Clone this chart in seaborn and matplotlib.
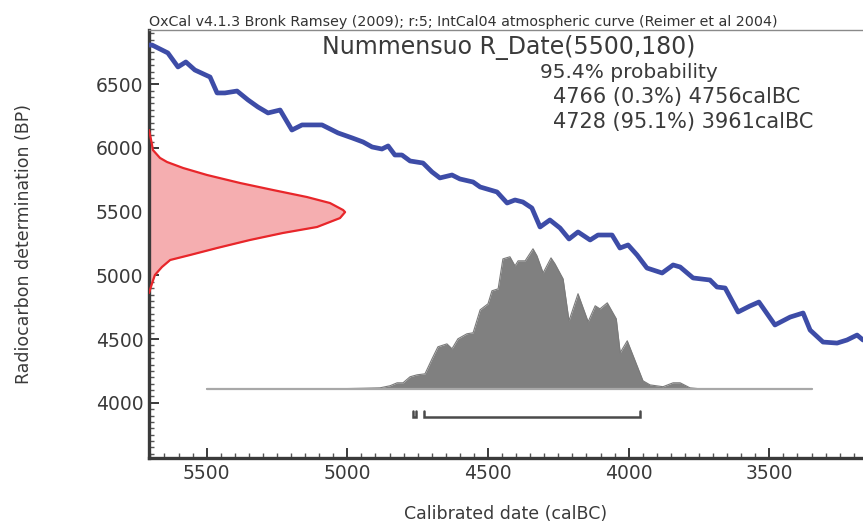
import matplotlib
matplotlib.use("Agg")
import matplotlib.pyplot as plt
import numpy as np
import pandas as pd
import seaborn as sns
from matplotlib.ticker import MultipleLocator

# ---------------- data ----------------
# IntCal04 calibration curve
curve_calbc = [5705, 5694, 5638, 5602, 5574, 5542, 5488, 5463, 5435, 5392,
               5353, 5318, 5282, 5239, 5197, 5161, 5090, 5033, 4983, 4944,
               4912, 4877, 4855, 4831, 4806, 4777, 4731, 4699, 4671, 4628,
               4600, 4553, 4528, 4468, 4432, 4404, 4376, 4344, 4315, 4280,
               4244, 4212, 4180, 4137, 4109, 4059, 4031, 4002, 3970, 3935,
               3881, 3842, 3817, 3771, 3711, 3686, 3657, 3611, 3569, 3537,
               3522, 3480, 3426, 3380, 3355, 3309, 3259, 3224, 3188, 3167]
curve_bp = [6808, 6808, 6746, 6636, 6675, 6612, 6557, 6432, 6432, 6447,
            6377, 6322, 6275, 6298, 6141, 6181, 6181, 6118, 6079, 6047,
            6008, 5992, 6016, 5945, 5945, 5898, 5882, 5812, 5765, 5788,
            5757, 5733, 5694, 5655, 5568, 5592, 5576, 5529, 5380, 5435,
            5372, 5286, 5341, 5278, 5317, 5317, 5215, 5239, 5160, 5058,
            5019, 5082, 5066, 4980, 4964, 4909, 4901, 4713, 4760, 4791,
            4744, 4611, 4673, 4705, 4571, 4477, 4469, 4493, 4532, 4493]

# radiocarbon measurement distribution (relative probability)
red_bp = [6141, 6037, 5984, 5922, 5890, 5843, 5788, 5725, 5670, 5615, 5568, 5513,
          5497, 5450, 5380, 5333, 5278, 5215, 5160, 5121, 5066, 5003, 4940, 4862]
red_prob = [0, 0.014, 0.02, 0.056, 0.092, 0.174, 0.296, 0.465, 0.633, 0.806, 0.923, 0.99,
            1.0, 0.974, 0.857, 0.683, 0.515, 0.347, 0.209, 0.108, 0.066, 0.03, 0.016, 0]

# calibrated date distribution (relative probability)
hist_calbc = [5500, 5043, 4944, 4884, 4848, 4823, 4802, 4777, 4752, 4724,
              4699, 4678, 4646, 4628, 4607, 4575, 4553, 4528, 4500, 4486,
              4464, 4447, 4422, 4404, 4393, 4368, 4340, 4326, 4304, 4276,
              4262, 4233, 4212, 4180, 4144, 4119, 4102, 4076, 4044, 4030,
              4005, 3984, 3949, 3924, 3878, 3842, 3817, 3782, 3746, 3348]
hist_prob = [0, 0, 0.004, 0.007, 0.022, 0.043, 0.043, 0.086, 0.1, 0.107,
             0.214, 0.3, 0.321, 0.286, 0.357, 0.393, 0.4, 0.564, 0.607, 0.7,
             0.714, 0.928, 0.943, 0.878, 0.914, 0.914, 1.0, 0.95, 0.828, 0.935,
             0.893, 0.785, 0.486, 0.679, 0.479, 0.593, 0.571, 0.614, 0.5, 0.258,
             0.343, 0.236, 0.057, 0.028, 0.015, 0.043, 0.043, 0.007, 0, 0]

# 95.4% ranges
range_from = [4766, 4728]
range_to = [4756, 3961]

x_ticks = [5500, 5000, 4500, 4000, 3500]
y_ticks = [4000, 4500, 5000, 5500, 6000, 6500]

header = "OxCal v4.1.3 Bronk Ramsey (2009); r:5; IntCal04 atmospheric curve (Reimer et al 2004)"
title = "Nummensuo R_Date(5500,180)"
info_lines = ["95.4% probability", "4766 (0.3%) 4756calBC", "4728 (95.1%) 3961calBC"]

# ---------------- styling ----------------
sns.set_style("white")
plt.rcParams["font.family"] = ["DejaVu Sans"]
TXT = "#3a3a3a"

W, H = 863, 525
fig = plt.figure(figsize=(W / 100, H / 100), dpi=100)
ax = fig.add_axes([149 / W, 67 / H, 714 / W, 428 / H])

XL, XR = 5705, 3167
YB, YT = 3567, 6926
ax.set_xlim(XL, XR)
ax.set_ylim(YB, YT)

# red measurement distribution along the y axis
red_x = [XL - 697 * p for p in red_prob]
ax.fill_betweenx(red_bp, XL, red_x, color="#f5aeb0", lw=0, zorder=2)
ax.plot(red_x, red_bp, color="#e8262a", lw=1.6, zorder=3)

# calibrated distribution
base = 4110
hist_y = [base + 1099 * p for p in hist_prob]
ax.fill_between(hist_calbc, base, hist_y, color="#808080", lw=0, zorder=2)
ax.plot(hist_calbc, hist_y, color="#7a7a7a", lw=0.8, zorder=3)
ax.plot([hist_calbc[0], hist_calbc[-1]], [base, base], color="#a8a8a8", lw=1.6, zorder=3)

# calibration curve
df = pd.DataFrame({"calBC": curve_calbc, "BP": curve_bp})
sns.lineplot(data=df, x="calBC", y="BP", ax=ax, color="#3d4ca7", lw=3.4,
             sort=False, zorder=4, solid_joinstyle="round", solid_capstyle="round")

# range brackets
by = 3889
for a, b in zip(range_from, range_to):
    ax.plot([a, a, b, b], [by + 50, by, by, by + 50], color="#4a4a4a", lw=1.8,
            solid_joinstyle="miter", zorder=4)

# axes cosmetics
ax.set_xticks(x_ticks)
ax.set_yticks(y_ticks)
ax.xaxis.set_minor_locator(MultipleLocator(50))
ax.yaxis.set_minor_locator(MultipleLocator(50))
ax.tick_params(which="major", direction="in", length=7, width=1.4, color="#3a3a3a",
               labelsize=13.5, labelcolor=TXT, pad=4)
ax.tick_params(which="minor", direction="in", length=3.5, width=1.0, color="#555555")
ax.tick_params(axis="x", which="both", top=False, bottom=True)
ax.tick_params(axis="y", which="both", left=True, right=False)
for s in ["left", "bottom"]:
    ax.spines[s].set_linewidth(2.4)
    ax.spines[s].set_color("#3a3a3a")
ax.spines["right"].set_visible(False)
ax.spines["top"].set_linewidth(1.0)
ax.spines["top"].set_color("#8a8a8a")
ax.set_xlabel("Calibrated date (calBC)", fontsize=12.5, color=TXT, labelpad=16)
ax.set_ylabel("Radiocarbon determination (BP)", fontsize=12.5, color=TXT, labelpad=45)
ax.grid(False)

# texts
fig.text(149 / W, 1 - 29 / H, header, fontsize=10.3, color="#333333", ha="left", va="bottom")
fig.text(322 / W, 1 - 47 / H, title, fontsize=17, color=TXT, ha="left", va="center")
fig.text(540 / W, 1 - 72 / H, info_lines[0], fontsize=14.5, color=TXT, ha="left", va="center")
fig.text(553 / W, 1 - 97 / H, info_lines[1], fontsize=15, color=TXT, ha="left", va="center")
fig.text(553 / W, 1 - 122 / H, info_lines[2], fontsize=15, color=TXT, ha="left", va="center")

fig.savefig("out.png", dpi=100)
